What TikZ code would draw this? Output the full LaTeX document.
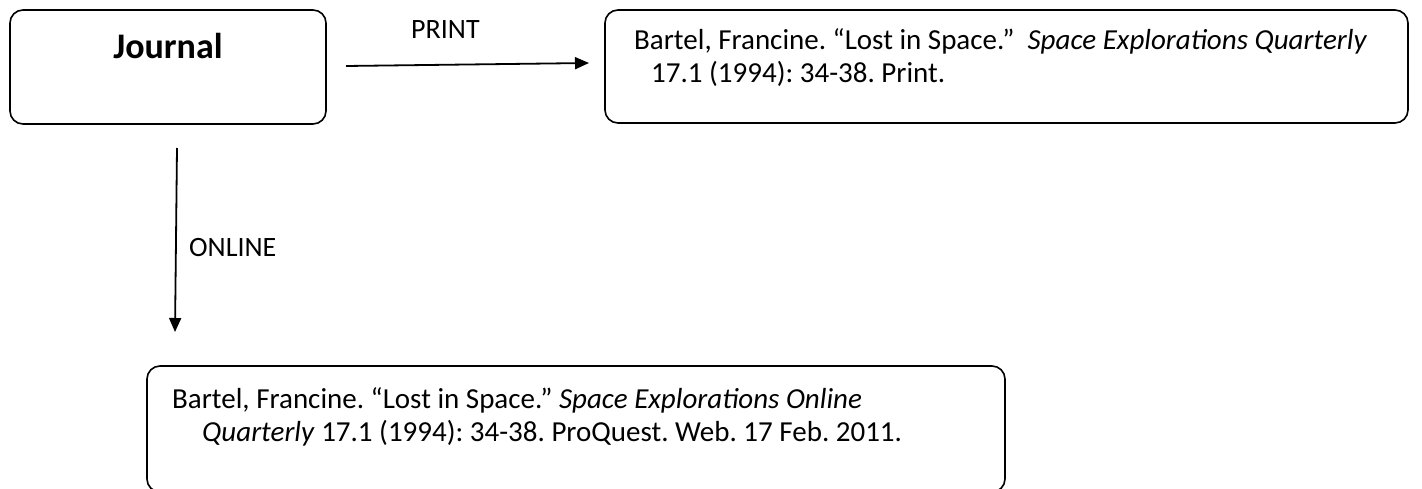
\documentclass[tikz,border=0pt]{standalone}
\usepackage{fontspec}
\setmainfont{Carlito}
\usetikzlibrary{arrows.meta}
\begin{document}
\frenchspacing
\begin{tikzpicture}[x=1pt,y=-1pt,
  box/.style={draw, line width=1.6pt, rounded corners=13pt, inner sep=0pt},
  txt/.style={inner sep=0pt, anchor=base west, font=\fontsize{29}{35}\selectfont},
  lbl/.style={inner sep=0pt, font=\fontsize{28}{33}\selectfont},
  conn/.style={line width=1.8pt, -{Triangle[length=14pt,width=12pt]}}]
\useasboundingbox (0,0) rectangle (1422,489);
\begin{scope}
\clip (0,0) rectangle (1422,489);
% boxes
\node[box, minimum width=316pt, minimum height=114pt] (journal) at (168,67) {};
\node[box, minimum width=803pt, minimum height=113pt] (printbox) at (1006.5,66.5) {};
\node[box, minimum width=858pt, minimum height=126pt] (webbox) at (576,429) {};
\end{scope}
% texts
\node[inner sep=0pt, anchor=base, font=\fontsize{36}{42}\selectfont\bfseries] (jt) at (168,59) {Journal};
\node[txt] (p1) at (634,50) {Bartel, Francine. “Lost in Space.”\ \ \textit{Space Explorations Quarterly}};
\node[txt] (p2) at (651,83) {17.1 (1994): 34-38. Print.};
\node[txt] (w1) at (172,408) {Bartel, Francine. “Lost in Space.” \textit{Space Explorations Online}};
\node[txt] (w2) at (202,441) {\textit{Quarterly} 17.1 (1994): 34-38. ProQuest. Web. 17 Feb. 2011.};
% connectors
\coordinate (ps) at (346,66);
\coordinate (pe) at (589,63);
\draw[conn] (ps) -- (pe);
\node[lbl, anchor=base west] (printlbl) at (411,39) {PRINT};
\coordinate (os) at (177,148);
\coordinate (oe) at (175,332);
\draw[conn] (os) -- (oe);
\node[lbl, anchor=base west] (onlinelbl) at (189,257) {ONLINE};
\end{tikzpicture}
\end{document}
